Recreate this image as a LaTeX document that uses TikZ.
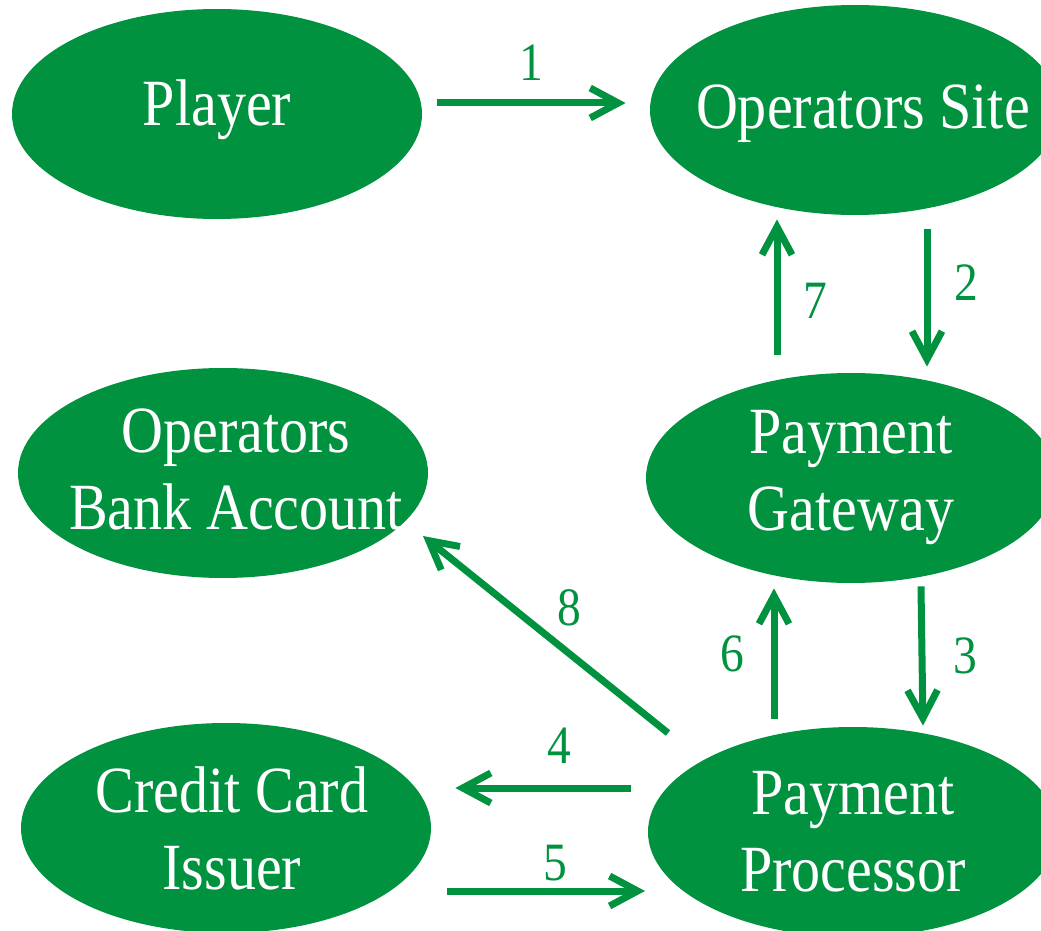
\documentclass[tikz,border=0pt]{standalone}
\usepackage{fontspec}
\setmainfont[FakeStretch=0.88]{Liberation Serif}
\usetikzlibrary{shapes.geometric,arrows.meta}
\definecolor{flowgreen}{RGB}{0,146,63}
\tikzset{
  blob/.style={ellipse, fill=flowgreen, inner sep=0pt, minimum width=205pt, minimum height=105pt},
  blobtext/.style={text=white, align=center, inner sep=0pt, font=\fontsize{33}{38.5}\selectfont},
  flow/.style={draw=flowgreen, line width=3.5pt, -{Straight Barb[length=14pt, width=15pt]}},
  num/.style={text=flowgreen, inner sep=0pt, font=\fontsize{27}{30}\selectfont}
}
\begin{document}
\begin{tikzpicture}[x=0.5pt, y=-0.5pt]
    \useasboundingbox (0, 0) rectangle (1041, 931);
    \clip (0, 0) rectangle (1041, 931);

    % the six parties
    \node[blob] (player) at (217, 114) {};
    \node[blob] (site) at (855, 110) {};
    \node[blob] (bank) at (223, 473) {};
    \node[blob] (gateway) at (851, 478) {};
    \node[blob] (issuer) at (226, 828) {};
    \node[blob] (processor) at (853, 832) {};

    \node[blobtext] (player-t) at ([yshift=2pt]player.center) {Player};
    \node[blobtext] (site-t) at ([xshift=4pt, yshift=-2pt]site.center) {Operators Site};
    \node[blobtext] (bank-t) at ([xshift=6.5pt, yshift=2pt]bank.center) {Operators\\Bank Account};
    \node[blobtext] (gateway-t) at (gateway.center) {Payment\\Gateway};
    \node[blobtext] (issuer-t) at ([xshift=3pt]issuer.center) {Credit Card\\Issuer};
    \node[blobtext] (processor-t) at (processor.center) {Payment\\Processor};

    % numbered steps
    \draw[flow] ([shift={(15,-11)}]player.east) -- ([shift={(-24,-7)}]site.west)
        node[num, midway, yshift=20pt] {1};
    \draw[flow] ([shift={(72,14)}]site.south) -- ([shift={(76,-6)}]gateway.north)
        node[num, midway, xshift=19.5pt, yshift=7.5pt] {2};
    \draw[flow] ([shift={(70,3)}]gateway.south) -- ([shift={(70,-1)}]processor.north)
        node[num, midway, xshift=21.5pt] {3};
    \draw[flow] ([shift={(-222,-44)}]processor.center) -- ([shift={(24,-40)}]issuer.east)
        node[num, midway, xshift=8pt, yshift=21pt] {4};
    \draw[flow] ([shift={(16,63)}]issuer.east) -- ([shift={(-208,59)}]processor.center)
        node[num, midway, xshift=4.5pt, yshift=14pt] {5};
    \draw[flow] ([shift={(-79,-8)}]processor.north) -- ([shift={(-77,5)}]gateway.south)
        node[num, midway, xshift=-21pt] {6};
    \draw[flow] ([shift={(-74,-18)}]gateway.north) -- ([shift={(-78,4)}]site.south)
        node[num, midway, xshift=19pt, yshift=-7pt] {7};
    \draw[flow] ([shift={(-185,-99)}]processor.center) -- ([shift={(200,63)}]bank.center)
        node[num, midway, xshift=12pt, yshift=13.5pt] {8};
\end{tikzpicture}
\end{document}
